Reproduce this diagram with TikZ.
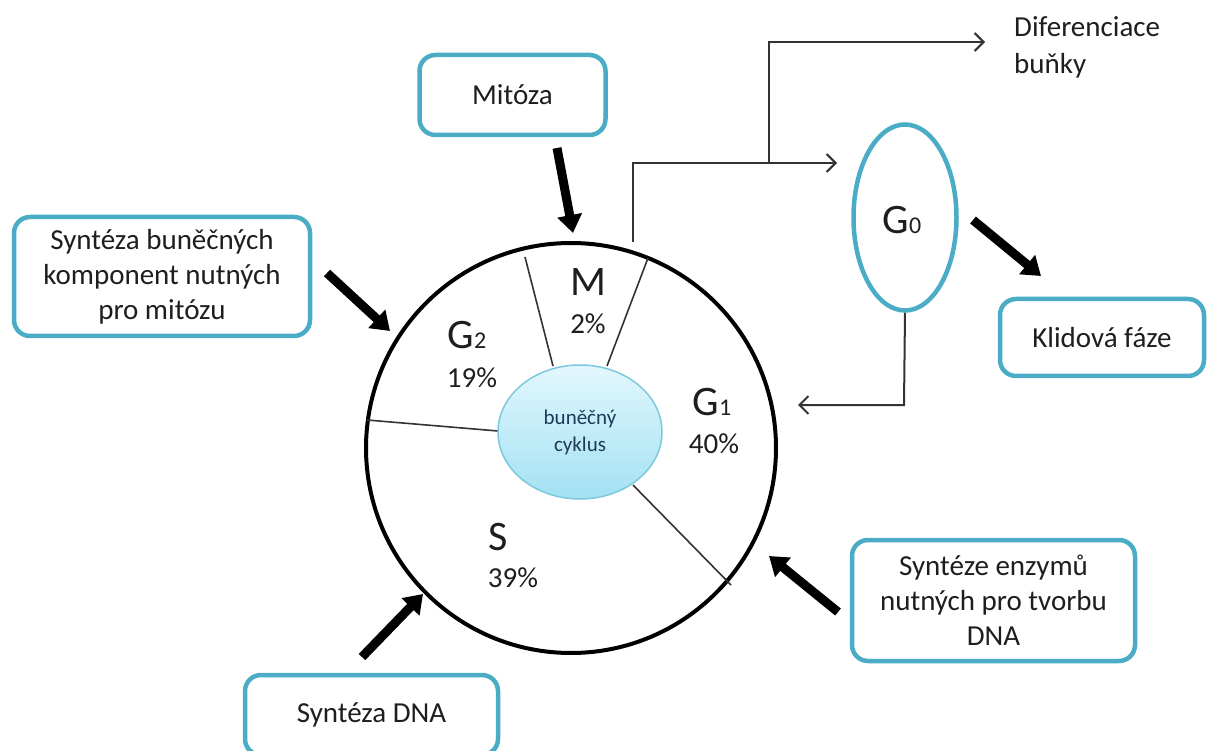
\documentclass[tikz,border=0pt]{standalone}
\usepackage{fontspec}
\setmainfont{Carlito}
\usetikzlibrary{arrows.meta,shapes.geometric}
\definecolor{tealbox}{HTML}{4BACC6}
\definecolor{txt}{HTML}{1E1E1E}
\definecolor{linegray}{HTML}{333333}
\definecolor{cycborder}{HTML}{7CC8DF}
\definecolor{cyctop}{HTML}{E2F7FD}
\definecolor{cycbot}{HTML}{A3E1F3}
\definecolor{cyctext}{HTML}{1F3A55}
\begin{document}
\begin{tikzpicture}[x=1pt,y=-1pt,
  box/.style={draw=tealbox, line width=4.5pt, rounded corners=16pt, fill=white,
    align=center, font=\fontsize{29}{35}\selectfont, text=txt, inner sep=0pt},
  thickarrow/.style={line width=9pt, -{Triangle[length=18pt,width=24pt]}},
  thinarrow/.style={draw=linegray, line width=2pt, -{Straight Barb[length=9pt,width=18pt]}},
  seg/.style={draw=linegray, line width=1.6pt},
  big/.style={font=\fontsize{42}{42}\selectfont, text=txt, inner sep=0pt},
  pct/.style={font=\fontsize{29}{29}\selectfont, text=txt, inner sep=0pt}
]
\useasboundingbox (0,0) rectangle (1208,751);
\clip (0,0) rectangle (1208,751);
\fill[white] (0,0) rectangle (1208,751);

% main cycle circle
\node[circle, draw=black, line width=4pt, minimum size=410pt, inner sep=0pt] (circ) at (571,448) {};

% segment separators
\coordinate (ml1) at (525,257);
\coordinate (ml2) at (553,366);
\coordinate (mr1) at (648,258);
\coordinate (mr2) at (607,366);
\coordinate (gs1) at (367,420);
\coordinate (gs2) at (498,431);
\coordinate (sg1) at (633,485);
\coordinate (sg2) at (731,585);
\draw[seg] (ml1) -- (ml2);
\draw[seg] (mr1) -- (mr2);
\draw[seg] (gs1) -- (gs2);
\draw[seg] (sg1) -- (sg2);

% central ellipse
\node[ellipse, draw=cycborder, line width=1.5pt, top color=cyctop, bottom color=cycbot,
  minimum width=164pt, minimum height=134pt, align=center, text=cyctext,
  font=\fontsize{21}{27}\selectfont, inner sep=0pt] (cyc) at (580,432) {buněčný\\cyklus};

% phase labels
\node[big] (lM) at (588,282) {M};
\node[pct] (pM) at (588,324) {2\%};
\node[big] (lG2) at (467,335) {G\fontsize{24}{24}\selectfont 2};
\node[pct] (pG2) at (472,378) {19\%};
\node[big] (lG1) at (712,402) {G\fontsize{24}{24}\selectfont 1};
\node[pct] (pG1) at (714,444) {40\%};
\node[big] (lS) at (498,537) {S};
\node[pct] (pS) at (513,578) {39\%};

% G0 ellipse
\node[ellipse, draw=tealbox, line width=4.5pt, fill=white, minimum width=103pt,
  minimum height=186pt, inner sep=0pt] (g0) at (905,217.5) {};
\node[big] (g0t) at (902,220) {G\fontsize{24}{24}\selectfont 0};

% boxes
\node[box, minimum width=186pt, minimum height=80pt] (mit) at (512.5,95) {Mitóza};
\node[box, minimum width=296pt, minimum height=119pt] (synb) at (162,276.5)
  {Syntéza buněčných\\komponent nutných\\pro mitózu};
\node[box, minimum width=283pt, minimum height=121pt] (syne) at (993.5,600.5)
  {Syntéze enzymů\\nutných pro tvorbu\\DNA};
\node[box, minimum width=204pt, minimum height=77pt] (klid) at (1102,337.5) {Klidová fáze};
\node[box, minimum width=253pt, minimum height=80pt] (sdna) at (371.5,715) {Syntéza DNA};

% differentiation text
\node[anchor=west, align=left, font=\fontsize{29}{37}\selectfont, text=txt, inner sep=0pt]
  (dif) at (1014,47) {Diferenciace\\buňky};

% thin connectors
\coordinate (mtop) at (633,242);
\coordinate (j) at (769,163);
\coordinate (tg0) at (837,163);
\coordinate (tdif) at (985,42);
\coordinate (gb) at (904,405);
\coordinate (tg1) at (798,405);
\draw[thinarrow] (mtop) |- (tg0);
\draw[thinarrow] (j) |- (tdif);
\draw[thinarrow] (g0.south) -- (gb) -- (tg1);

% thick arrows
\coordinate (a1s) at (557,148);
\coordinate (a1e) at (573,233);
\coordinate (a2s) at (327,273);
\coordinate (a2e) at (390,331);
\coordinate (a3s) at (362,657);
\coordinate (a3e) at (423,594);
\coordinate (a4s) at (838,612);
\coordinate (a4e) at (769,556);
\coordinate (a5s) at (973,220);
\coordinate (a5e) at (1041,276);
\draw[thickarrow] (a1s) -- (a1e);
\draw[thickarrow] (a2s) -- (a2e);
\draw[thickarrow] (a3s) -- (a3e);
\draw[thickarrow] (a4s) -- (a4e);
\draw[thickarrow] (a5s) -- (a5e);
\end{tikzpicture}
\end{document}
